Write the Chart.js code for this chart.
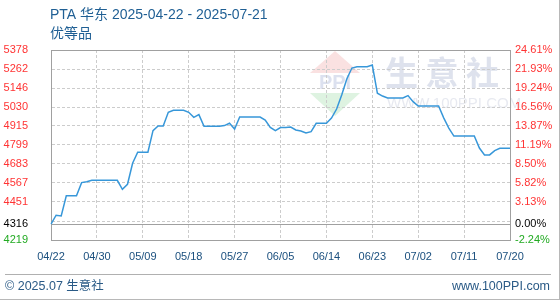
<!DOCTYPE html>
<html><head><meta charset="utf-8">
<script src="https://cdn.jsdelivr.net/npm/chart.js@4/dist/chart.umd.min.js"></script>
<style>html,body{margin:0;padding:0;background:#fff}#wrap{width:560px;height:300px;position:relative}</style>
</head><body><div id="wrap"><canvas id="c" width="560" height="300"></canvas></div>
<script>
const titleLine1 = 'PTA 华东 2025-04-22 - 2025-07-21';
const titleLine2 = '优等品';
const footerLeft = '© 2025.07 生意社';
const footerRight = 'www.100PPI.com';
const xTickLabels = ['04/22','04/30','05/09','05/18','05/27','06/05','06/14','06/23','07/02','07/11','07/20'];
const xTickEvery = 9;
const leftTickLabels = ['5378','5262','5146','5030','4915','4799','4683','4567','4451','4316','4219'];
const rightTickLabels = ['24.61%','21.93%','19.24%','16.56%','13.87%','11.19%','8.50%','5.82%','3.13%','0.00%','-2.24%'];
const baseValue = 4316;
const prices = [
 4316,4370,4366,4489,4489,4489,4569,4574,4583,4583,
 4583,4583,4583,4583,4528,4559,4687,4754,4754,4754,
 4886,4914,4914,4998,5010,5010,5010,4998,4967,4984,
 4913,4913,4913,4913,4917,4931,4896,4969,4969,4969,
 4969,4969,4951,4906,4886,4905,4906,4908,4890,4884,
 4872,4880,4931,4931,4931,4963,5018,5103,5201,5268,
 5276,5276,5276,5286,5114,5097,5085,5085,5085,5085,
 5100,5063,5036,5036,5036,5036,5036,4964,4902,4853,
 4853,4853,4853,4853,4780,4738,4738,4764,4778,4778,
 4778
];

const tickVals = leftTickLabels.map(Number);
const yMax = tickVals[0], yMin = tickVals[tickVals.length - 1];
const gridStep = (yMax - yMin) / 10;
const extraGrid = yMax - 9 * gridStep; // unlabeled dashed line just above the base
const allTicks = tickVals.slice(0, 9).concat([extraGrid, baseValue, yMin]);
const categories = prices.map((_, i) => i);

function labelIndex(v) { return tickVals.findIndex(t => Math.abs(t - v) < 0.01); }
function tickColor(v) { return Math.abs(v - baseValue) < 0.01 ? '#000000' : (v > baseValue ? '#ff3333' : '#22aa22'); }

const frameColor = '#a0a0a0';
const gridColor = '#cccccc';
const FONT = '"Liberation Sans", Arial, "Noto Sans CJK SC", sans-serif';

const decor = {
  id: 'decor',
  beforeDraw(chart) {
    const ctx = chart.ctx;
    ctx.save();
    ctx.fillStyle = '#fff';
    ctx.fillRect(0, 0, 560, 300);
    // watermark logo
    ctx.fillStyle = 'rgba(245,200,200,0.55)';
    ctx.beginPath(); ctx.moveTo(335, 51); ctx.lineTo(360, 73); ctx.lineTo(310, 73); ctx.closePath(); ctx.fill();
    ctx.fillStyle = 'rgba(200,235,205,0.6)';
    ctx.beginPath(); ctx.moveTo(310, 93); ctx.lineTo(360, 93); ctx.lineTo(335, 116); ctx.closePath(); ctx.fill();
    ctx.fillStyle = 'rgba(205,212,232,0.7)';
    ctx.font = 'bold 20px ' + FONT;
    ctx.textAlign = 'center'; ctx.textBaseline = 'middle';
    ctx.fillText('PPI', 335, 83);
    ctx.font = 'bold 33px "Noto Sans CJK SC", sans-serif';
    ctx.fillStyle = 'rgba(205,210,228,0.65)';
    ctx.textAlign = 'left';
    ctx.fillText('生 意 社', 385, 72);
    ctx.font = '15px ' + FONT;
    ctx.fillStyle = 'rgba(215,218,230,0.6)';
    ctx.fillText('WWW.100PPI.COM', 387, 104);
    ctx.restore();
  },
  afterDraw(chart) {
    const ctx = chart.ctx;
    ctx.save();
    ctx.fillStyle = '#1f5f94';
    ctx.textBaseline = 'middle'; ctx.textAlign = 'left';
    ctx.font = '14px ' + FONT;
    ctx.fillText(titleLine1, 50, 15);
    ctx.fillText(titleLine2, 50, 34);
    ctx.font = '12.5px ' + FONT;
    ctx.fillStyle = '#2a5a86';
    ctx.fillText(footerLeft, 5, 287);
    ctx.textAlign = 'right';
    ctx.fillText(footerRight, 550, 287);
    ctx.strokeStyle = '#b0b0b0'; ctx.lineWidth = 1;
    ctx.beginPath(); ctx.moveTo(5, 274.5); ctx.lineTo(551, 274.5); ctx.stroke();
    ctx.strokeStyle = '#b8b8b8';
    ctx.beginPath(); ctx.moveTo(559.5, 0); ctx.lineTo(559.5, 300); ctx.moveTo(0, 299.5); ctx.lineTo(560, 299.5); ctx.stroke();
    ctx.restore();
  }
};

new Chart(document.getElementById('c'), {
  type: 'line',
  data: {
    labels: categories,
    datasets: [{
      data: prices,
      borderColor: '#3797d9',
      borderWidth: 1.5,
      pointRadius: 0,
      tension: 0,
      fill: false,
      yAxisID: 'y'
    }]
  },
  options: {
    responsive: false,
    animation: false,
    devicePixelRatio: 1,
    layout: { padding: { top: 50, left: 0, right: 0, bottom: 0 } },
    plugins: { legend: { display: false }, tooltip: { enabled: false }, title: { display: false } },
    scales: {
      x: {
        type: 'category',
        offset: false,
        afterFit(s) { s.height = 60; },
        border: {
          display: true, color: frameColor, width: 1,
          dash(ctx) { const t = ctx.tick; if (!t) return []; return (t.value === 0 || t.value === prices.length - 1) ? [] : [3, 2]; }
        },
        grid: {
          drawTicks: false,
          color(ctx) { const t = ctx.tick; if (!t) return gridColor; return (t.value === 0 || t.value === prices.length - 1) ? frameColor : gridColor; },
          lineWidth: 1
        },
        ticks: {
          autoSkip: false, maxRotation: 0, minRotation: 0, padding: 10,
          color: '#1a4f7e',
          font: { family: FONT, size: 11 },
          callback(v, i) { return i % xTickEvery === 0 ? xTickLabels[i / xTickEvery] : null; }
        }
      },
      y: {
        position: 'left',
        min: yMin, max: yMax,
        afterFit(s) { s.width = 51; },
        afterBuildTicks(s) { s.ticks = allTicks.map(v => ({ value: v })); },
        border: {
          display: true, color: frameColor, width: 1,
          dash(ctx) { const t = ctx.tick; if (!t) return []; const v = t.value; return (Math.abs(v - yMax) < 0.01 || Math.abs(v - baseValue) < 0.01 || Math.abs(v - yMin) < 0.01) ? [] : [3, 2]; }
        },
        grid: {
          drawTicks: false,
          color(ctx) { const t = ctx.tick; if (!t) return gridColor; const v = t.value; if (Math.abs(v - yMax) < 0.01 || Math.abs(v - baseValue) < 0.01 || Math.abs(v - yMin) < 0.01) return frameColor; return gridColor; },
          lineWidth: 1
        },
        ticks: {
          autoSkip: false, padding: 23,
          font: { family: FONT, size: 11 },
          color(ctx) { return tickColor(ctx.tick.value); },
          callback(v) { const k = labelIndex(v); return k >= 0 ? leftTickLabels[k] : ''; }
        }
      },
      y2: {
        position: 'right',
        min: yMin, max: yMax,
        afterFit(s) { s.width = 50; },
        afterBuildTicks(s) { s.ticks = allTicks.map(v => ({ value: v })); },
        border: { display: true, color: frameColor, width: 1 },
        grid: { drawOnChartArea: false, drawTicks: false },
        ticks: {
          autoSkip: false, padding: 5,
          font: { family: FONT, size: 11 },
          color(ctx) { return tickColor(ctx.tick.value); },
          callback(v) { const k = labelIndex(v); return k >= 0 ? rightTickLabels[k] : ''; }
        }
      }
    }
  },
  plugins: [decor]
});
</script>
</body></html>
